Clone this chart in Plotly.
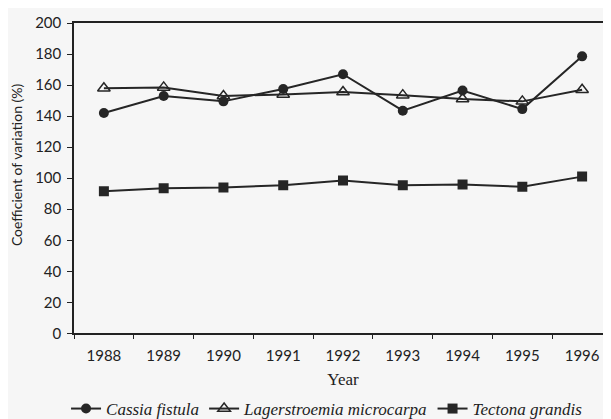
import plotly.graph_objects as go

years = ["1988", "1989", "1990", "1991", "1992", "1993", "1994", "1995", "1996"]
cassia = [142, 153, 149.5, 157.5, 167, 143.5, 156.5, 144.5, 178.5]
lagerstroemia = [158, 158.5, 153, 154, 155.5, 153.5, 151, 149.5, 157]
tectona = [91.5, 93.5, 94, 95.5, 98.5, 95.5, 96, 94.5, 101]
y_ticks = [0, 20, 40, 60, 80, 100, 120, 140, 160, 180, 200]

ink = "#262626"
fig = go.Figure()
fig.add_trace(go.Scatter(x=years, y=cassia, name="Cassia fistula", mode="lines+markers",
                         line=dict(color=ink, width=2),
                         marker=dict(symbol="circle", size=10, color=ink)))
fig.add_trace(go.Scatter(x=years, y=lagerstroemia, name="Lagerstroemia microcarpa", mode="lines+markers",
                         line=dict(color=ink, width=2),
                         marker=dict(symbol="triangle-up-open", size=11, color=ink, line=dict(width=1.5, color=ink))))
fig.add_trace(go.Scatter(x=years, y=tectona, name="Tectona grandis", mode="lines+markers",
                         line=dict(color=ink, width=2),
                         marker=dict(symbol="square", size=10, color=ink)))

fig.update_layout(
    width=611, height=419,
    margin=dict(l=66, r=5, t=15, b=83),
    paper_bgcolor="#f6f6f6", plot_bgcolor="#f6f6f6",
    showlegend=True,
    legend=dict(orientation="h", xref="container", x=0.095, xanchor="left",
                yref="container", y=0.0, yanchor="bottom",
                font=dict(family="Liberation Serif", size=17, style="italic", color="#222"),
                bgcolor="rgba(0,0,0,0)", itemwidth=30, tracegroupgap=0,
                entrywidth=0),
    xaxis=dict(type="category", range=[-0.5, 8.5], showline=True, linecolor="#222", linewidth=1.5,
               mirror=True, ticks="outside", ticklen=4, tickcolor="#222", tickson="boundaries",
               showgrid=False, zeroline=False, ticklabelstandoff=8,
               tickfont=dict(family="Lato", size=15, color="#222"),
               title=dict(text="Year", font=dict(family="Liberation Serif", size=17, color="#222"), standoff=10)),
    yaxis=dict(range=[0, 200], tickvals=y_ticks, showline=True, linecolor="#222", linewidth=1.5,
               mirror=True, ticks="outside", ticklen=5, tickcolor="#222",
               showgrid=False, zeroline=False, ticklabelstandoff=3,
               tickfont=dict(family="Lato", size=15, color="#222")),
    annotations=[dict(text="Coefficient of variation (%)", xref="paper", yref="paper",
                      x=-0.108, y=0.545, xanchor="center", yanchor="middle", textangle=-90,
                      showarrow=False, font=dict(family="Lato", size=14, color="#222"))],
)

fig.write_html("out.html")
